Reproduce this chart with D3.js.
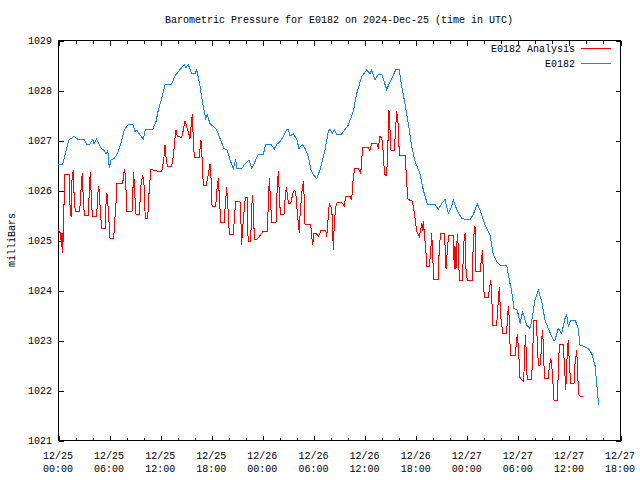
<!DOCTYPE html>
<html><head><meta charset="utf-8">
<script src="https://cdn.jsdelivr.net/npm/d3@7"></script>
<style>body{margin:0;background:#fff}svg{display:block}</style>
</head><body>
<script>
// ---- data ----
const chartTitle = "Barometric Pressure for E0182 on 2024-Dec-25 (time in UTC)";
const yAxisLabel = "milliBars";
const seriesNames = ["E0182 Analysis", "E0182"];
const seriesColors = ["#ff0000", "#1a84f0"];
const startTime = "2024-12-25T00:00:00Z";
const spanHours = 66;
const yTicks = [1021, 1022, 1023, 1024, 1025, 1026, 1027, 1028, 1029];
const xTickDates = ["12/25","12/25","12/25","12/25","12/26","12/26","12/26","12/26","12/27","12/27","12/27","12/27"];
const xTickTimes = ["00:00","06:00","12:00","18:00","00:00","06:00","12:00","18:00","00:00","06:00","12:00","18:00"];

// hours since 2024-12-25 00:00 UTC
const analysisHours = [0,0.32,0.39,0.47,0.55,0.62,0.74,0.82,1.33,1.41,
1.53,1.64,1.80,1.91,2.03,2.50,2.62,2.74,2.85,2.97,
3.09,3.56,3.68,3.79,3.91,4.03,4.54,4.66,4.78,4.85,
4.97,5.13,5.55,5.64,5.75,5.91,6.02,6.11,6.54,6.66,
6.78,6.89,7.60,7.72,7.83,7.95,8.07,8.69,8.77,8.89,
9.01,9.16,9.55,9.75,9.95,10.10,10.25,10.53,10.72,10.92,
11.66,12.18,12.30,12.45,12.57,12.68,12.84,13.35,13.54,13.74,
13.86,14.01,14.53,14.72,14.92,15.11,15.30,15.50,15.70,15.77,
15.89,16.01,16.59,16.68,16.79,16.91,17.06,17.38,17.65,17.85,
17.97,18.09,18.52,18.71,18.83,18.94,19.11,19.50,19.69,19.81,
19.93,20.12,20.59,20.79,20.90,21.37,21.49,21.57,21.64,21.88,
22.00,22.23,22.28,22.35,22.55,22.67,22.82,22.94,23.06,23.33,
23.92,24.11,24.58,24.70,24.82,24.93,25.10,25.60,25.76,25.88,
25.99,26.11,26.54,26.66,26.81,26.93,27.05,27.33,27.60,27.75,
27.91,28.03,28.22,28.34,28.42,28.62,28.81,28.93,29.01,29.68,
29.79,29.91,30.06,30.38,30.57,30.89,31.44,31.56,31.74,31.86,
32.06,32.21,32.33,32.45,32.61,32.80,33.32,33.63,33.79,34.29,
34.49,34.68,34.88,35.27,35.55,35.78,36.44,36.64,36.84,37.43,
37.62,37.82,38.02,38.13,38.29,38.41,38.60,38.72,38.87,38.99,
39.11,39.50,39.66,39.78,39.97,40.08,40.75,40.87,41.07,41.26,
41.54,41.73,41.93,42.13,42.43,42.60,42.72,42.79,42.90,43.02,
43.22,43.30,43.61,43.77,43.89,44.01,44.13,44.66,44.78,44.95,
45.37,45.49,45.57,45.77,45.89,46.42,46.54,46.62,46.74,46.89,
47.01,47.13,47.53,47.60,47.80,47.92,48.07,48.66,48.77,48.97,
49.09,49.56,49.76,49.88,49.95,50.07,50.54,50.73,50.82,50.93,
51.05,51.52,51.71,51.83,51.99,52.23,52.69,52.81,52.93,53.08,
53.20,53.67,53.79,53.94,54.06,54.26,54.65,54.77,54.88,54.96,
55.04,55.11,55.63,55.75,55.90,56.14,56.22,56.41,56.61,56.73,
56.88,57.00,57.12,57.58,57.70,57.87,57.98,58.17,58.25,58.64,
58.76,58.88,59.35,59.46,59.63,59.82,59.93,60.05,60.21,60.60,
60.72,60.92,60.99,61.15,61.30,61.69];
const analysisValues = [1025.21,1025.13,1024.87,1025.13,1024.75,1025.13,1025.93,1026.31,1026.31,1025.70,
1025.47,1026.20,1026.40,1025.80,1025.57,1025.57,1025.73,1026.13,1026.33,1025.83,
1025.50,1025.50,1026.00,1026.36,1025.87,1025.48,1025.48,1025.90,1026.07,1025.97,
1025.57,1025.23,1025.23,1025.73,1025.93,1025.60,1025.27,1025.03,1025.03,1025.40,
1025.57,1026.13,1026.13,1026.33,1026.41,1026.20,1025.57,1025.57,1025.90,1026.35,
1025.93,1025.52,1025.52,1026.10,1026.30,1026.10,1025.43,1025.43,1026.03,1026.41,
1026.38,1026.38,1026.48,1026.67,1026.90,1026.67,1026.48,1026.48,1026.67,1027.03,
1027.20,1027.08,1027.05,1027.20,1027.38,1027.27,1027.17,1027.03,1027.40,1027.52,
1027.00,1026.65,1026.65,1026.83,1027.00,1026.67,1026.10,1026.08,1026.30,1026.52,
1026.23,1025.68,1025.68,1026.10,1026.23,1025.90,1025.35,1025.35,1025.80,1026.05,
1025.73,1025.12,1025.12,1025.60,1025.78,1025.78,1025.33,1024.90,1025.14,1025.63,
1025.85,1025.85,1025.20,1024.97,1024.97,1025.20,1025.90,1025.67,1025.01,1025.01,
1025.13,1025.18,1025.18,1025.73,1026.23,1025.87,1025.35,1025.35,1026.13,1026.37,
1025.93,1025.52,1025.52,1025.80,1026.05,1025.93,1025.73,1025.73,1025.94,1025.99,
1025.96,1025.70,1025.33,1025.15,1025.47,1025.93,1026.17,1025.80,1025.32,1025.32,
1025.07,1024.90,1025.13,1025.12,1025.07,1025.19,1025.19,1025.07,1025.47,1025.73,
1025.67,1025.47,1024.80,1025.33,1025.67,1025.75,1025.75,1025.68,1025.88,1025.88,
1025.80,1026.27,1026.43,1026.43,1026.33,1026.85,1026.85,1026.79,1026.93,1026.93,
1026.85,1027.08,1027.03,1026.90,1026.47,1026.30,1026.30,1026.80,1027.60,1027.20,
1026.79,1026.79,1027.27,1027.57,1027.27,1026.70,1026.70,1026.40,1025.83,1025.80,
1025.80,1025.67,1025.43,1025.17,1025.07,1025.20,1025.33,1025.18,1025.37,1025.14,
1024.74,1024.47,1024.47,1024.77,1025.13,1024.64,1024.22,1024.22,1024.87,1025.13,
1025.13,1024.80,1024.43,1024.90,1025.10,1025.10,1024.43,1024.87,1024.43,1025.12,
1024.87,1024.20,1024.20,1024.87,1025.13,1024.40,1024.19,1024.19,1025.00,1025.28,
1024.37,1024.37,1024.67,1024.80,1024.20,1023.85,1023.85,1024.10,1024.20,1023.93,
1023.30,1023.30,1023.80,1024.05,1023.47,1023.13,1023.13,1023.53,1023.67,1022.93,
1022.69,1022.69,1022.87,1023.11,1022.87,1022.24,1022.18,1022.47,1023.10,1022.87,
1022.43,1022.21,1022.21,1022.80,1023.40,1023.40,1023.20,1022.50,1022.50,1022.73,
1023.20,1022.93,1022.23,1022.23,1022.47,1022.63,1022.50,1022.03,1021.80,1021.80,
1022.40,1022.91,1022.91,1022.53,1022.00,1022.80,1023.00,1022.53,1022.13,1022.13,
1022.53,1022.80,1022.47,1021.90,1021.88,1021.88];

const stationHours = [0,0.55,1.26,1.88,2.31,3.05,3.37,3.76,4.08,4.23,
4.54,5.05,5.40,5.64,5.84,6.02,6.22,6.61,7.01,7.40,
7.79,8.19,8.77,9.04,9.28,9.55,10.02,10.25,11.12,11.51,
11.78,12.18,12.57,13.35,13.74,14.33,14.83,15.03,15.30,15.70,
16.09,16.29,16.68,17.06,17.35,17.53,17.85,18.24,18.64,19.03,
19.50,19.88,20.20,20.59,20.87,20.99,21.57,21.96,22.43,22.75,
23.52,24.11,24.39,25.01,25.40,25.68,26.07,26.46,26.86,27.05,
27.25,27.63,28.03,28.30,28.69,29.01,29.40,29.71,29.98,30.38,
30.77,31.36,31.74,31.94,32.21,32.45,32.73,33.32,33.71,34.09,
34.68,35.08,35.67,36.25,36.64,36.84,37.23,37.62,38.02,38.60,
39.19,39.69,40.08,40.36,40.75,41.14,41.54,41.93,42.51,42.90,
43.37,44.27,44.66,45.06,45.45,45.84,46.24,46.42,46.82,47.41,
47.88,48.39,48.77,49.24,49.56,50.15,50.73,51.12,51.52,51.91,
52.69,53.00,53.28,53.55,53.94,54.26,54.57,54.84,55.04,55.43,
55.63,56.02,56.41,56.81,57.19,57.58,58.17,58.37,58.75,59.15,
59.54,59.74,59.93,60.21,60.72,61.10,61.30,61.69,62.28,62.68,
63.06,63.33,63.50];
const stationValues = [1026.52,1026.52,1027.00,1027.07,1027.02,1027.02,1026.92,1026.92,1027.01,1026.92,
1027.02,1026.84,1026.79,1026.72,1026.80,1026.44,1026.60,1026.63,1026.74,1026.94,
1027.20,1027.30,1027.32,1027.17,1027.20,1027.12,1027.02,1027.21,1027.21,1027.37,
1027.60,1027.83,1028.10,1028.12,1028.28,1028.41,1028.51,1028.45,1028.51,1028.33,
1028.33,1028.40,1028.07,1027.67,1027.43,1027.50,1027.33,1027.27,1027.20,1027.03,
1026.83,1026.80,1026.60,1026.43,1026.61,1026.43,1026.43,1026.52,1026.60,1026.43,
1026.71,1026.71,1026.91,1026.91,1026.82,1026.91,1026.97,1027.07,1027.21,1027.21,
1027.08,1027.12,1027.02,1026.83,1026.91,1026.83,1026.67,1026.40,1026.31,1026.23,
1026.40,1026.80,1027.17,1027.21,1027.13,1027.21,1027.12,1027.12,1027.21,1027.30,
1027.57,1027.93,1028.27,1028.40,1028.33,1028.40,1028.21,1028.31,1028.31,1028.01,
1028.23,1028.41,1028.41,1028.07,1027.73,1027.33,1026.87,1026.57,1026.33,1026.00,
1025.72,1025.72,1025.61,1025.73,1025.81,1025.53,1025.67,1025.81,1025.61,1025.43,
1025.41,1025.41,1025.51,1025.72,1025.60,1025.30,1025.10,1024.70,1024.57,1024.50,
1024.50,1024.20,1023.97,1023.63,1023.60,1023.33,1023.57,1023.40,1023.30,1023.23,
1023.37,1023.80,1024.00,1023.77,1023.40,1023.23,1023.00,1023.00,1023.23,1023.13,
1023.43,1023.50,1023.27,1023.40,1023.40,1023.23,1022.90,1022.88,1022.83,1022.73,
1022.50,1022.00,1021.70];

// ---- chart ----
const W = 640, H = 480;
const M = {left: 58, right: 620, top: 40, bottom: 440};
const FONT = "'Liberation Mono', 'DejaVu Sans Mono', monospace";
const t0 = new Date(startTime);
const toDate = h => new Date(t0.getTime() + h * 3600e3);

const x = d3.scaleUtc().domain([t0, toDate(spanHours)]).range([M.left, M.right]);
const y = d3.scaleLinear().domain([1021, 1029]).range([M.bottom, M.top]);

const svg = d3.select("body").append("svg").attr("width", W).attr("height", H)
  .style("font-family", FONT).style("font-size", "10px");

const g = svg.append("g").attr("transform", "translate(0.5,0.5)");

const majorX = d3.utcHour.every(6).range(t0, toDate(spanHours + 0.01));
const minorX = d3.utcHour.every(2).range(t0, toDate(spanHours + 0.01));

function tickAxis(axis, ty) {
  const a = g.append("g").attr("transform", ty).call(axis);
  a.select(".domain").remove();
  a.selectAll("text").remove();
  a.selectAll("line").attr("stroke", "#000").attr("shape-rendering", "crispEdges");
  return a;
}
// minor x ticks bottom/top
tickAxis(d3.axisBottom(x).tickValues(minorX).tickSize(-3), `translate(0,${M.bottom})`);
tickAxis(d3.axisTop(x).tickValues(minorX).tickSize(-3), `translate(0,${M.top})`);
// major x ticks
tickAxis(d3.axisBottom(x).tickValues(majorX).tickSize(-5), `translate(0,${M.bottom})`);
tickAxis(d3.axisTop(x).tickValues(majorX).tickSize(-5), `translate(0,${M.top})`);
// y ticks
tickAxis(d3.axisLeft(y).tickValues(yTicks).tickSize(-5), `translate(${M.left},0)`);
tickAxis(d3.axisRight(y).tickValues(yTicks).tickSize(-5), `translate(${M.right},0)`);

// border
g.append("rect").attr("x", M.left).attr("y", M.top)
  .attr("width", M.right - M.left).attr("height", M.bottom - M.top)
  .attr("fill", "none").attr("stroke", "#000").attr("shape-rendering", "crispEdges");

// tick labels
svg.append("g").selectAll("text").data(yTicks).join("text")
  .attr("x", M.left - 6).attr("y", d => y(d) + 4)
  .attr("text-anchor", "end").text(d => d);

const xl = svg.append("g").selectAll("text").data(majorX).join("text")
  .attr("text-anchor", "middle")
  .attr("transform", d => `translate(${x(d)},0)`);
xl.append("tspan").attr("x", 0).attr("y", 459).text((d, i) => xTickDates[i]);
xl.append("tspan").attr("x", 0).attr("y", 472).text((d, i) => xTickTimes[i]);

// title and axis label
svg.append("text").attr("x", (M.left + M.right) / 2).attr("y", 23)
  .attr("text-anchor", "middle").text(chartTitle);
svg.append("text").attr("transform", `translate(15,${(M.top + M.bottom) / 2}) rotate(-90)`)
  .attr("text-anchor", "middle").text(yAxisLabel);

// series
const line = d3.line().x(d => x(toDate(d[0]))).y(d => y(d[1]));
const series = [d3.zip(analysisHours, analysisValues), d3.zip(stationHours, stationValues)];
const plot = svg.append("g");
series.forEach((s, i) => {
  plot.append("path").datum(s).attr("d", line)
    .attr("fill", "none").attr("stroke", seriesColors[i]).attr("stroke-width", 1)
    .attr("shape-rendering", "crispEdges");
});

// legend
const lg = svg.append("g");
seriesNames.forEach((n, i) => {
  const ly = 48 + i * 15;
  lg.append("text").attr("x", 575).attr("y", ly + 4).attr("text-anchor", "end").text(n);
  lg.append("line").attr("x1", 581).attr("x2", 611).attr("y1", ly + 0.5).attr("y2", ly + 0.5)
    .attr("stroke", seriesColors[i]).attr("shape-rendering", "crispEdges");
});
</script>
</body></html>
